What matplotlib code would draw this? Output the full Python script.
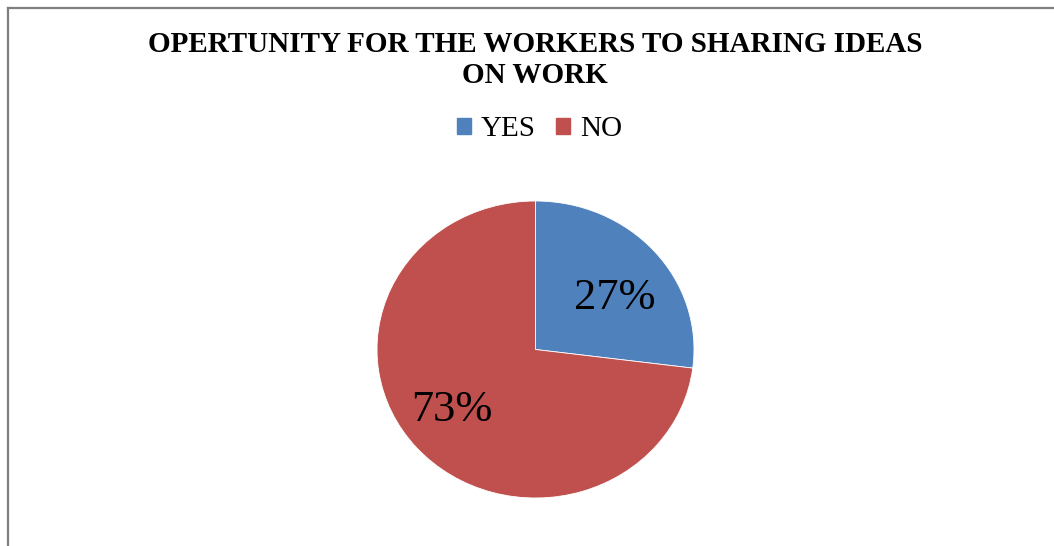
import matplotlib
matplotlib.use("Agg")
import matplotlib.pyplot as plt
from matplotlib.lines import Line2D
from matplotlib.patches import Rectangle

categories = ["YES", "NO"]
values = [27, 73]
colors = ["#4F81BD", "#C0504D"]
title = "OPERTUNITY FOR THE WORKERS TO SHARING IDEAS\nON WORK"

plt.rcParams['font.family'] = ['Liberation Serif', 'DejaVu Serif']

W, H = 1054, 546
fig = plt.figure(figsize=(W / 100, H / 100), dpi=100)
fig.patch.set_facecolor("white")

# chart frame (only top and left visible in reference)
fig.add_artist(Line2D([8 / W, 1.0], [1 - 8 / H, 1 - 8 / H], color="#7f7f7f", lw=1.6))
fig.add_artist(Line2D([8 / W, 8 / W], [0, 1 - 8 / H], color="#7f7f7f", lw=1.6))

ax = fig.add_axes([377 / W, (H - 498) / H, 317 / W, 297 / H])
wedges, texts, autotexts = ax.pie(
    values, colors=colors, startangle=90, counterclock=False,
    autopct=lambda p: f"{p:.0f}%", pctdistance=0.65,
    wedgeprops=dict(edgecolor="white", linewidth=0.6),
    textprops=dict(fontsize=32, color="black"),
    frame=False,
)
ax.set_aspect("auto")
ax.set_xlim(-1, 1)
ax.set_ylim(-1, 1)
# label placement (best-fit style offsets as in reference)
label_pos = [(0.50, 0.35), (-0.527, -0.407)]
for t, p in zip(autotexts, label_pos):
    t.set_position(p)

fig.text(535 / W, 1 - 60 / H, title, ha="center", va="center",
         fontsize=21, fontweight="bold", linespacing=1.2)

handles = [Rectangle((0, 0), 1, 1, color=c) for c in colors]
fig.legend(handles, categories, loc="center", bbox_to_anchor=(539.5 / W, 1 - 129 / H),
           ncol=2, frameon=False, fontsize=21, handlelength=0.48, handleheight=0.48,
           handletextpad=0.34, columnspacing=0.68, borderpad=0)

fig.savefig("out.png", dpi=100)
